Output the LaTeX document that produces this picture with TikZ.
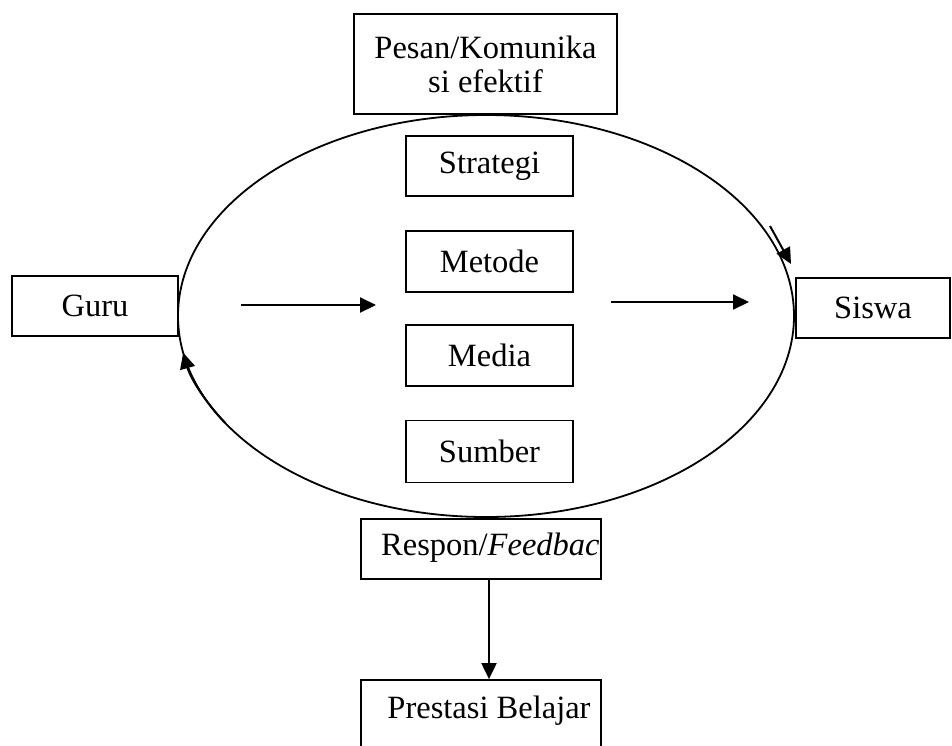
\documentclass[tikz,border=0pt]{standalone}
\usepackage{fontspec}
\setmainfont{Liberation Serif}
\usetikzlibrary{arrows.meta}
\begin{document}
\begin{tikzpicture}[x=1pt,y=-1pt,
  box/.style={draw,line width=1.8pt,inner sep=0pt,align=center},
  flow/.style={line width=2pt,-{Triangle[length=16pt,width=15pt]}},
  every node/.style={font=\fontsize{32.5}{34}\selectfont}]
\useasboundingbox (0,0) rectangle (952,745);

% message box above the circle
\node[box,minimum width=263pt,minimum height=100pt] (pesan) at (485.5,64) {Pesan/Komunika\\si efektif};

% the learning circle
\draw[line width=1.8pt] (486,316) ellipse[x radius=308,y radius=201];

% components inside
\node[box,minimum width=167pt,minimum height=60pt] (strategi) at (489.5,166) {Strategi};
\node[box,minimum width=167pt,minimum height=61pt] (metode) at (489.5,261.5) {Metode};
\node[box,minimum width=167pt,minimum height=61pt] (media) at (489.5,355.5) {Media};
\node[box,minimum width=167pt,minimum height=62pt] (sumber) at (489.5,451.5) {Sumber};

% teacher and student
\node[box,minimum width=166pt,minimum height=60pt] (guru) at (95,306) {Guru};
\node[box,minimum width=154pt,minimum height=60pt] (siswa) at (873,308) {Siswa};

% flow through the circle
\coordinate (a1) at (241,305);
\coordinate (a2) at (376,305);
\coordinate (b1) at (611,302);
\coordinate (b2) at (749,302);
\draw[flow] (a1) -- (a2);
\draw[flow] (b1) -- (b2);

% circulation arrows on the ring
\coordinate (r1) at (770,226);
\coordinate (r2) at (791,264);
\draw[flow] (r1) -- (r2);
\draw[flow] (486,316) ++(148:308 and 201) arc[start angle=148,end angle=169.5,x radius=308,y radius=201];

% feedback and achievement
\node[box,minimum width=240pt,minimum height=60pt] (respon) at (481,549) {};
\node[anchor=west,inner sep=0pt] (respontxt) at (381,548) {Respon/\textit{Feedbac}};
\node[box,minimum width=240pt,minimum height=80pt] (prestasi) at (481,720) {};
\node[inner sep=0pt] (prestasitxt) at (489,711) {Prestasi Belajar};
\draw[flow] (respon.south -| 489,0) -- (prestasi.north -| 489,0);
\end{tikzpicture}
\end{document}
